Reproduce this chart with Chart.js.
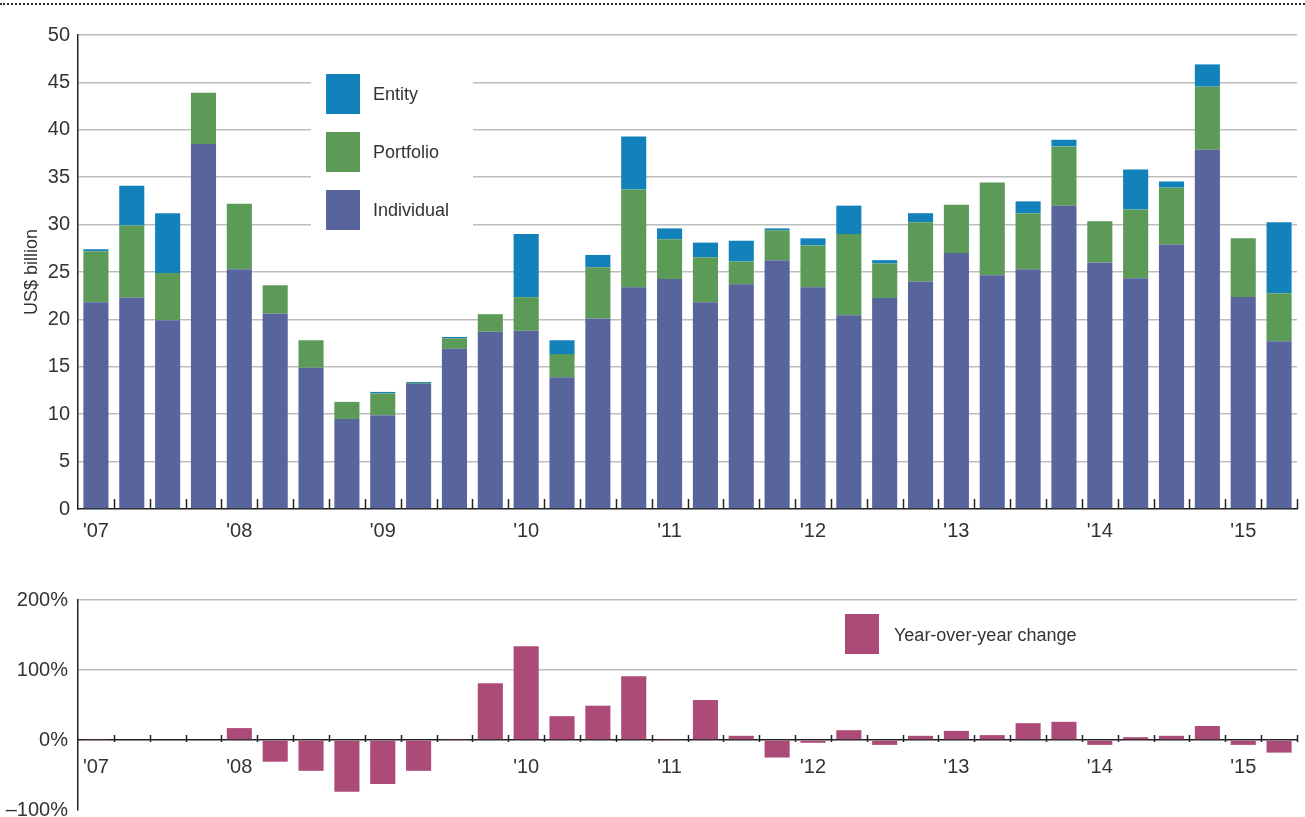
<!DOCTYPE html>
<html>
<head>
<meta charset="utf-8">
<script src="https://cdn.jsdelivr.net/npm/chart.js@4.4.1/dist/chart.umd.min.js"></script>
<style>
  body { margin: 0; background: #fff; width: 1305px; height: 817px; overflow: hidden; position: relative; }
  .dots { position: absolute; left: 0; top: 3px; width: 1305px; border-top: 2px dotted #333; }
  #top { position: absolute; left: 0; top: 0; }
  #bot { position: absolute; left: 0; top: 560px; }
</style>
</head>
<body>
<div class="dots"></div>
<canvas id="top" width="1305" height="560"></canvas>
<canvas id="bot" width="1305" height="290"></canvas>
<script>
const quarters = [
  '2007 Q1','2007 Q2','2007 Q3','2007 Q4',
  '2008 Q1','2008 Q2','2008 Q3','2008 Q4',
  '2009 Q1','2009 Q2','2009 Q3','2009 Q4',
  '2010 Q1','2010 Q2','2010 Q3','2010 Q4',
  '2011 Q1','2011 Q2','2011 Q3','2011 Q4',
  '2012 Q1','2012 Q2','2012 Q3','2012 Q4',
  '2013 Q1','2013 Q2','2013 Q3','2013 Q4',
  '2014 Q1','2014 Q2','2014 Q3','2014 Q4',
  '2015 Q1','2015 Q2'
];
const yearTicks = ["'07", "'08", "'09", "'10", "'11", "'12", "'13", "'14", "'15"];

// US$ billion per quarter
const individual = [21.8, 22.3, 19.9, 38.5, 25.3, 20.6, 14.9, 9.5, 9.9, 13.2, 16.9, 18.7, 18.8, 13.9, 20.1, 23.4,
  24.25, 21.8, 23.7, 26.25, 23.4, 20.45, 22.25, 24.0, 27.0, 24.65, 25.3, 32.0, 26.0, 24.35, 27.9, 37.9, 22.35, 17.7];
const portfolio = [5.4, 7.6, 5.0, 5.4, 6.9, 3.0, 2.9, 1.8, 2.3, 0.1, 1.1, 1.85, 3.55, 2.45, 5.4, 10.3,
  4.2, 4.75, 2.4, 3.15, 4.4, 8.55, 3.65, 6.25, 5.1, 9.8, 5.9, 6.25, 4.35, 7.25, 6.0, 6.65, 6.2, 5.05];
const entity = [0.2, 4.2, 6.3, 0, 0, 0, 0, 0, 0.15, 0.1, 0.15, 0, 6.65, 1.45, 1.3, 5.6,
  1.15, 1.55, 2.2, 0.2, 0.75, 3.0, 0.35, 0.95, 0, 0, 1.25, 0.7, 0, 4.2, 0.65, 2.35, 0, 7.5];

// year-over-year change, %
const yoyChange = [1.5, null, null, null, 17, -31, -44, -74, -63, -44, 1.5, 81, 134, 34, 49, 91,
  1.5, 57, 6, -25, -4, 14, -7, 6, 13, 7, 24, 26, -7, 4, 6, 20, -7, -18];

const NARROW = "'Liberation Sans Narrow', 'Arial Narrow', 'Liberation Sans', sans-serif";
const SANS = "'Liberation Sans', Arial, sans-serif";
const TEXT = '#333';
const GRID = '#bdbdbd';
const AXIS = '#222';

function quarterTicks(chart, up, down) {
  const x = chart.scales.x, ctx = chart.ctx;
  const y0 = chart.scales.y.getPixelForValue(0);
  ctx.save();
  ctx.strokeStyle = AXIS;
  ctx.lineWidth = 1.5;
  for (let i = 1; i <= quarters.length; i++) {
    const px = i < quarters.length
      ? (x.getPixelForValue(i - 1) + x.getPixelForValue(i)) / 2
      : chart.chartArea.right;
    ctx.beginPath();
    ctx.moveTo(Math.round(px) + 0.5, y0 - up);
    ctx.lineTo(Math.round(px) + 0.5, y0 + down);
    ctx.stroke();
  }
  ctx.restore();
}

const topDecor = {
  id: 'topDecor',
  afterDraw(chart) {
    quarterTicks(chart, 10, 0);
    const ctx = chart.ctx;
    ctx.save();
    ctx.fillStyle = '#fff';
    ctx.fillRect(311, 66, 162, 172);
    const items = chart.data.datasets.slice().reverse();
    items.forEach((ds, k) => {
      const top = 74 + k * 58;
      ctx.fillStyle = ds.backgroundColor;
      ctx.fillRect(326, top, 34, 40);
      ctx.fillStyle = TEXT;
      ctx.font = '18px ' + SANS;
      ctx.textBaseline = 'middle';
      ctx.fillText(ds.label, 373, top + 21);
    });
    ctx.restore();
  }
};

const botDecor = {
  id: 'botDecor',
  afterDraw(chart) {
    quarterTicks(chart, 5, 2);
    const ctx = chart.ctx;
    const ds = chart.data.datasets[0];
    ctx.save();
    ctx.fillStyle = ds.backgroundColor;
    ctx.fillRect(845, 54, 34, 40);
    ctx.fillStyle = TEXT;
    ctx.font = '18px ' + SANS;
    ctx.textBaseline = 'middle';
    ctx.fillText(ds.label, 894, 76);
    ctx.restore();
  }
};

new Chart(document.getElementById('top'), {
  type: 'bar',
  data: {
    labels: quarters,
    datasets: [
      { label: 'Individual', data: individual, backgroundColor: '#58659c' },
      { label: 'Portfolio', data: portfolio, backgroundColor: '#5c9a58' },
      { label: 'Entity', data: entity, backgroundColor: '#1382ba' }
    ]
  },
  options: {
    responsive: false,
    animation: false,
    layout: { padding: { top: 35, right: 8, left: 0, bottom: 0 } },
    datasets: { bar: { barPercentage: 0.7, categoryPercentage: 1, borderWidth: 0 } },
    plugins: { legend: { display: false }, tooltip: { enabled: false } },
    scales: {
      x: {
        stacked: true,
        grid: { display: false, drawTicks: false },
        border: { color: AXIS, width: 1.5 },
        ticks: {
          autoSkip: false, maxRotation: 0, padding: 10, color: TEXT,
          font: { family: NARROW, size: 20 },
          callback: (v, i) => (i % 4 === 0 ? yearTicks[i / 4] : '')
        },
        afterFit: s => { s.height = 51; }
      },
      y: {
        stacked: true, min: 0, max: 50,
        ticks: { stepSize: 5, padding: 8, color: TEXT, font: { family: NARROW, size: 20 } },
        grid: {
          color: c => (c.tick && c.tick.value === 0 ? 'rgba(0,0,0,0)' : GRID),
          lineWidth: 1.5, drawTicks: false
        },
        border: { color: AXIS, width: 1.5 },
        title: { display: true, text: 'US$ billion', color: TEXT, font: { family: SANS, size: 18 }, padding: { top: 21, bottom: 0 } },
        afterFit: s => { s.width = 78; }
      }
    }
  },
  plugins: [topDecor]
});

new Chart(document.getElementById('bot'), {
  type: 'bar',
  data: {
    labels: quarters,
    datasets: [{ label: 'Year-over-year change', data: yoyChange, backgroundColor: '#ac4a78' }]
  },
  options: {
    responsive: false,
    animation: false,
    layout: { padding: { top: 40, right: 8, left: 0, bottom: 40 } },
    datasets: { bar: { barPercentage: 0.7, categoryPercentage: 1, borderWidth: 0 } },
    plugins: { legend: { display: false }, tooltip: { enabled: false } },
    scales: {
      x: {
        position: { y: 0 },
        grid: { display: false, drawTicks: false },
        border: { color: AXIS, width: 1.5 },
        ticks: {
          autoSkip: false, maxRotation: 0, padding: 15, color: TEXT,
          font: { family: NARROW, size: 20 },
          callback: (v, i) => (i % 4 === 0 ? yearTicks[i / 4] : '')
        }
      },
      y: {
        min: -100, max: 200,
        ticks: {
          stepSize: 100, padding: 10, color: TEXT, font: { family: NARROW, size: 20 },
          callback: v => (v < 0 ? '\u2013' : '') + Math.abs(v) + '%'
        },
        grid: {
          color: c => (c.tick && c.tick.value > 0 ? GRID : 'rgba(0,0,0,0)'),
          lineWidth: 1.5, drawTicks: false
        },
        border: { color: AXIS, width: 1.5 },
        afterFit: s => { s.width = 78; }
      }
    }
  },
  plugins: [botDecor]
});
</script>
</body>
</html>
